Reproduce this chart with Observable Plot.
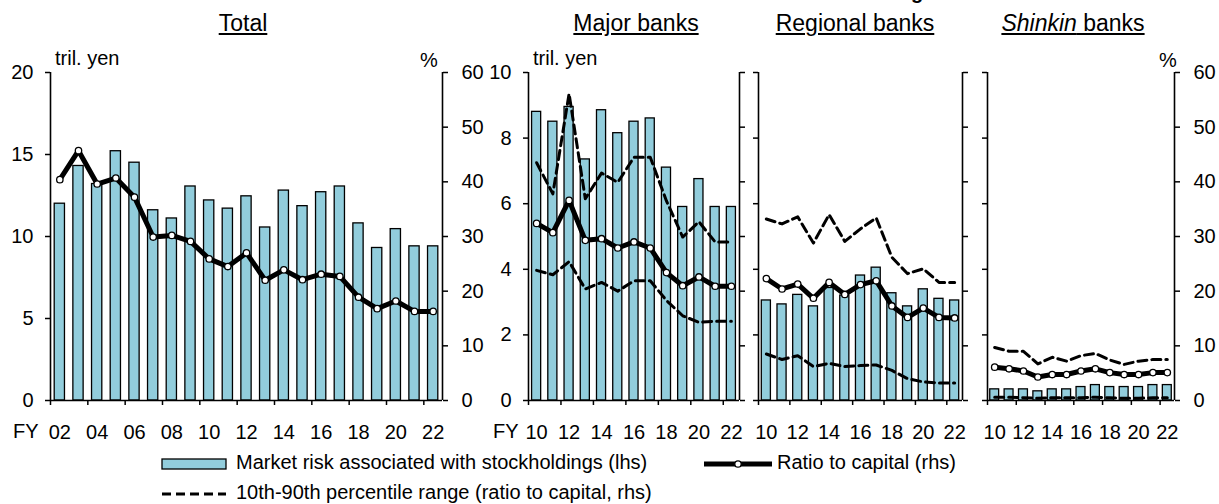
<!DOCTYPE html>
<html>
<head>
<meta charset="utf-8">
<script src="https://cdn.jsdelivr.net/npm/d3@7"></script>
<script src="https://cdn.jsdelivr.net/npm/@observablehq/plot@0.6"></script>
<style>
html, body { margin: 0; padding: 0; background: #fff; }
body { width: 1219px; height: 504px; overflow: hidden; position: relative;
       font-family: "Liberation Sans", Arial, sans-serif; color: #000; }
#chart { position: absolute; left: 0; top: 0; width: 1219px; height: 504px; }
#chart svg.plotsvg { position: absolute; left: 0; top: 0; background: transparent; overflow: visible; }
.t { position: absolute; white-space: nowrap; line-height: 1; }
.title { font-size: 23px; text-decoration: underline; text-underline-offset: 2px; transform: translateX(-50%); }
.lbl { font-size: 20px; }
</style>
</head>
<body>
<div id="chart"></div>
<script>
// ---------------- data ----------------
const totalFY = [2002, 2003, 2004, 2005, 2006, 2007, 2008, 2009, 2010, 2011, 2012,
                 2013, 2014, 2015, 2016, 2017, 2018, 2019, 2020, 2021, 2022];
const bankFY = [2010, 2011, 2012, 2013, 2014, 2015, 2016, 2017, 2018, 2019, 2020, 2021, 2022];
const totalTickFY = [2002, 2004, 2006, 2008, 2010, 2012, 2014, 2016, 2018, 2020, 2022];
const bankTickFY = [2010, 2012, 2014, 2016, 2018, 2020, 2022];
const lhsTicksTotal = [0, 5, 10, 15, 20];
const lhsTicksBank = [0, 2, 4, 6, 8, 10];
const rhsTicks = [0, 10, 20, 30, 40, 50, 60];

// Market risk associated with stockholdings (tril. yen, lhs)
const totalRisk = [12.0, 14.3, 13.2, 15.2, 14.5, 11.6, 11.1, 13.05, 12.2, 11.7, 12.45,
                   10.55, 12.8, 11.85, 12.7, 13.05, 10.8, 9.3, 10.45, 9.4, 9.4];
const majorRisk = [8.8, 8.5, 8.95, 7.35, 8.85, 8.15, 8.5, 8.6, 7.1, 5.9, 6.75, 5.9, 5.9];
const regionalRisk = [3.05, 2.93, 3.22, 2.87, 3.43, 3.2, 3.81, 4.05, 3.27, 2.87, 3.39, 3.1, 3.05];
const shinkinRisk = [0.34, 0.34, 0.34, 0.28, 0.34, 0.34, 0.41, 0.47, 0.41, 0.41, 0.41, 0.47, 0.47];

// Ratio to capital (%, rhs)
const totalRatio = [40.4, 45.7, 39.6, 40.7, 37.2, 29.9, 30.2, 29.1, 25.9, 24.5, 27.0,
                    22.0, 23.9, 22.1, 23.1, 22.7, 18.9, 16.8, 18.2, 16.3, 16.3];
const majorRatio = [32.4, 30.7, 36.6, 29.3, 29.6, 27.9, 29.0, 27.9, 23.4, 21.0, 22.6, 20.9, 20.9];
const regionalRatio = [22.3, 20.4, 21.3, 18.7, 21.6, 19.4, 21.2, 21.9, 17.3, 15.2, 16.9, 15.2, 15.1];
const shinkinRatio = [6.1, 5.8, 5.4, 4.3, 4.75, 4.75, 5.4, 5.8, 5.1, 4.75, 4.75, 5.1, 5.1];

// 10th-90th percentile range (ratio to capital, %, rhs)
const majorP90 = [43.5, 37.8, 56.1, 36.9, 41.6, 39.9, 44.5, 44.5, 36.5, 29.9, 32.7, 29.0, 29.0];
const majorP10 = [23.8, 23.0, 25.4, 20.4, 21.6, 20.0, 21.9, 21.9, 18.3, 15.5, 14.3, 14.5, 14.5];
const regionalP90 = [33.2, 32.3, 33.6, 28.8, 34.0, 29.1, 31.4, 33.4, 26.2, 23.2, 24.1, 21.6, 21.6];
const regionalP10 = [8.5, 7.5, 8.2, 6.2, 6.8, 6.2, 6.4, 6.5, 5.5, 4.0, 3.4, 3.2, 3.2];
const shinkinP90 = [9.7, 9.0, 9.0, 6.7, 7.9, 7.2, 8.2, 8.6, 7.4, 6.6, 7.2, 7.5, 7.5];
const shinkinP10 = [0.6, 0.6, 0.5, 0.4, 0.5, 0.5, 0.5, 0.6, 0.5, 0.4, 0.4, 0.5, 0.5];

// ---------------- layout ----------------
const W = 1219, H = 460, TOP = 72, BASE = 400;
const BAR_FILL = "#92CDDC";
const FONT = "'Liberation Sans', Arial, sans-serif";

const panels = [
  {fy: totalFY, tickFY: totalTickFY, lhsMax: 20, lhsTicks: lhsTicksTotal, risk: totalRisk, ratio: totalRatio,
   p90: null, p10: null, left: 50, right: 442, half: 0.275, leftLabels: true, rightLabels: true},
  {fy: bankFY, tickFY: bankTickFY, lhsMax: 10, lhsTicks: lhsTicksBank, risk: majorRisk, ratio: majorRatio,
   p90: majorP90, p10: majorP10, left: 528, right: 739, half: 0.28, leftLabels: true, rightLabels: false},
  {fy: bankFY, tickFY: bankTickFY, lhsMax: 10, lhsTicks: lhsTicksBank, risk: regionalRisk, ratio: regionalRatio,
   p90: regionalP90, p10: regionalP10, left: 758, right: 962, half: 0.29, leftLabels: false, rightLabels: false},
  {fy: bankFY, tickFY: bankTickFY, lhsMax: 10, lhsTicks: lhsTicksBank, risk: shinkinRisk, ratio: shinkinRatio,
   p90: shinkinP90, p10: shinkinP10, left: 987, right: 1174, half: 0.31, leftLabels: false, rightLabels: true}
];

const chart = document.getElementById("chart");
const fyFmt = f => String(f % 100).padStart(2, "0");

function rows(fy, vals) { return fy.map((f, i) => ({fy: f, v: vals[i]})); }

function drawPanel(p) {
  const xDomain = [p.fy[0] - 0.5, p.fy[p.fy.length - 1] + 0.5];
  const common = {
    width: W, height: H,
    marginLeft: p.left, marginRight: W - p.right, marginTop: TOP, marginBottom: H - BASE,
    style: {background: "transparent", fontFamily: FONT, fontSize: "20px", color: "#000", overflow: "visible"}
  };
  const lhs = Plot.plot({
    ...common,
    x: {type: "linear", domain: xDomain, label: null},
    y: {type: "linear", domain: [0, p.lhsMax], label: null},
    marks: [
      Plot.rect(rows(p.fy, p.risk), {x1: d => d.fy - p.half, x2: d => d.fy + p.half, y1: () => 0, y2: "v",
        fill: BAR_FILL, stroke: "#000", strokeWidth: 1.3}),
      Plot.ruleY([0], {stroke: "#000", strokeWidth: 1.6}),
      Plot.ruleX([xDomain[0]], {stroke: "#000", strokeWidth: 1.6}),
      Plot.ruleX([xDomain[1]], {stroke: "#000", strokeWidth: 1.6}),
      Plot.axisY(p.lhsTicks, {anchor: "left", tickSize: 5, tickPadding: 12, strokeWidth: 1.5,
        tickFormat: p.leftLabels ? (d => String(d)) : (() => ""), label: null}),
      Plot.axisX(p.tickFY.map(f => f - 0.5), {anchor: "bottom", tickSize: 5, strokeWidth: 1.5,
        tickFormat: () => "", label: null}),
      Plot.axisX(p.tickFY, {anchor: "bottom", tickSize: 0, tickPadding: 24, tickFormat: fyFmt, label: null})
    ]
  });
  const lineMarks = [];
  if (p.p10) lineMarks.push(Plot.line(rows(p.fy, p.p10), {x: "fy", y: "v", stroke: "#000", strokeWidth: 3, strokeDasharray: "9,5"}));
  if (p.p90) lineMarks.push(Plot.line(rows(p.fy, p.p90), {x: "fy", y: "v", stroke: "#000", strokeWidth: 3, strokeDasharray: "9,5"}));
  const rhs = Plot.plot({
    ...common,
    x: {type: "linear", domain: xDomain, label: null, axis: null},
    y: {type: "linear", domain: [0, 60], label: null},
    marks: [
      Plot.axisY(rhsTicks, {anchor: "right", tickSize: 5, tickPadding: 14, strokeWidth: 1.5,
        tickFormat: p.rightLabels ? (d => String(d)) : (() => ""), label: null}),
      ...lineMarks,
      Plot.line(rows(p.fy, p.ratio), {x: "fy", y: "v", stroke: "#000", strokeWidth: 5, strokeLinejoin: "round"}),
      Plot.dot(rows(p.fy, p.ratio), {x: "fy", y: "v", r: 3.2, fill: "#fff", stroke: "#000", strokeWidth: 1.3})
    ]
  });
  for (const svg of [lhs, rhs]) {
    svg.classList.add("plotsvg");
    chart.appendChild(svg);
  }
}
panels.forEach(drawPanel);

// ---------------- texts ----------------
function addText(html, cls, left, top, extra = "") {
  const d = document.createElement("div");
  d.className = "t " + cls;
  d.style.left = left + "px";
  d.style.top = top + "px";
  if (extra) d.style.cssText += extra;
  d.innerHTML = html;
  chart.appendChild(d);
  return d;
}
addText("g", "lbl", 911, -18, "font-weight:bold;");
addText("Total", "title", 243, 12);
addText("Major banks", "title", 636, 12);
addText("Regional banks", "title", 855, 12);
addText("<i>Shinkin</i> banks", "title", 1073, 12);
addText("tril. yen", "lbl", 55, 48);
addText("%", "lbl", 420, 50);
addText("tril. yen", "lbl", 533, 48);
addText("%", "lbl", 1159, 50);
addText("FY", "lbl", 13, 421);
addText("FY", "lbl", 493, 421);

// legend
const legend = document.createElement("div");
legend.style.cssText = "position:absolute;left:0;top:0;width:1219px;height:504px;pointer-events:none;";
legend.innerHTML = `
<svg width="1219" height="504" style="position:absolute;left:0;top:0;overflow:visible">
  <rect x="162" y="459" width="64" height="10" fill="${BAR_FILL}" stroke="#000" stroke-width="1.3"></rect>
  <line x1="704" y1="464" x2="772" y2="464" stroke="#000" stroke-width="5"></line>
  <circle cx="738" cy="464" r="3.2" fill="#fff" stroke="#000" stroke-width="1.3"></circle>
  <line x1="162" y1="494" x2="226" y2="494" stroke="#000" stroke-width="3" stroke-dasharray="9,5"></line>
</svg>`;
chart.appendChild(legend);
addText("Market risk associated with stockholdings (lhs)", "lbl", 236, 452);
addText("Ratio to capital (rhs)", "lbl", 777, 452);
addText("10th-90th percentile range (ratio to capital, rhs)", "lbl", 236, 482);
</script>
</body>
</html>
